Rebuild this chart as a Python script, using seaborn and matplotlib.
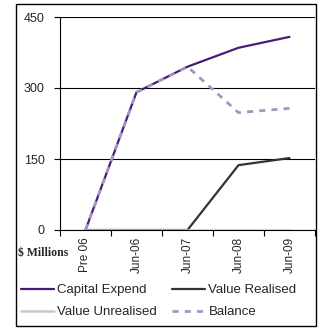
import matplotlib
matplotlib.use("Agg")
import matplotlib.pyplot as plt
import seaborn as sns
import pandas as pd
from matplotlib.lines import Line2D
from matplotlib.patches import Rectangle

categories = ["Pre 06", "Jun-06", "Jun-07", "Jun-08", "Jun-09"]
capital_expend = [0, 291, 345, 385, 408]
value_realised = [0, 0, 0, 137, 152]
value_unrealised = [0, 0, 0, 0, 0]
balance = [0, 291, 345, 248, 257]
yticks = [0, 150, 300, 450]

sns.set_theme(style="white")
plt.rcParams['font.family'] = ['Liberation Sans', 'DejaVu Sans']

fig = plt.figure(figsize=(3.23, 3.30), dpi=100)
ax = fig.add_axes([60/323, 1-230/330, 255/323, 213/330])

x = list(range(len(categories)))
series = [
    ("Capital Expend", capital_expend, "#4a1a78", "-", 1.6),
    ("Value Realised", value_realised, "#333333", "-", 1.6),
    ("Value Unrealised", value_unrealised, "#c8c8c8", "-", 1.8),
    ("Balance", balance, "#a297c4", (0, (2.2, 2.2)), 2.0),
]
for name, vals, col, ls, lw in series:
    df = pd.DataFrame({"x": x, "y": vals})
    sns.lineplot(data=df, x="x", y="y", ax=ax, color=col, linestyle=ls, linewidth=lw, zorder=3)

ax.set_xlim(-0.5, len(categories) - 0.5)
ax.set_ylim(0, 450)
ax.set_yticks(yticks)
ax.set_yticklabels([str(v) for v in yticks], fontsize=9)
ax.grid(axis="y", color="black", linewidth=0.8)
ax.grid(axis="x", visible=False)
ax.set_axisbelow(True)

ax.set_xticks([i - 0.5 for i in range(len(categories) + 1)])
ax.set_xticklabels([])
ax.set_xticks(x, minor=True)
ax.set_xticklabels(categories, minor=True, rotation=90, fontsize=8.5)
ax.tick_params(axis="x", which="major", length=4, width=0.8, color="black", direction="out", bottom=True)
ax.tick_params(axis="x", which="minor", length=0, pad=5)
ax.tick_params(axis="y", which="major", length=4, width=0.8, color="black", direction="out", left=True, pad=7)
ax.set_xlabel("")
ax.set_ylabel("")

for s in ["top", "right"]:
    ax.spines[s].set_visible(False)
for s in ["left", "bottom"]:
    ax.spines[s].set_color("black")
    ax.spines[s].set_linewidth(0.8)

fig.text(18/323, 1-253/330, "$ Millions", fontsize=8.5, fontweight="bold",
         family=["Liberation Serif", "DejaVu Serif"], va="center", ha="left")

order = [0, 2, 1, 3]
handles = [Line2D([], [], color=series[i][2], linestyle=series[i][3], linewidth=series[i][4]) for i in order]
labels = [series[i][0] for i in order]
fig.legend(handles, labels, ncol=2, loc="upper left", bbox_to_anchor=(21/323, 1-284/330),
           frameon=False, fontsize=9.5, handlelength=2.5, handletextpad=0.25,
           columnspacing=1.15, labelspacing=0.75, borderaxespad=0, borderpad=0)

fig.patches.append(Rectangle((16/323, 4/330), 300/323, 322/330, transform=fig.transFigure,
                             fill=False, edgecolor="black", linewidth=1.0))

fig.savefig("out.png", dpi=100)
